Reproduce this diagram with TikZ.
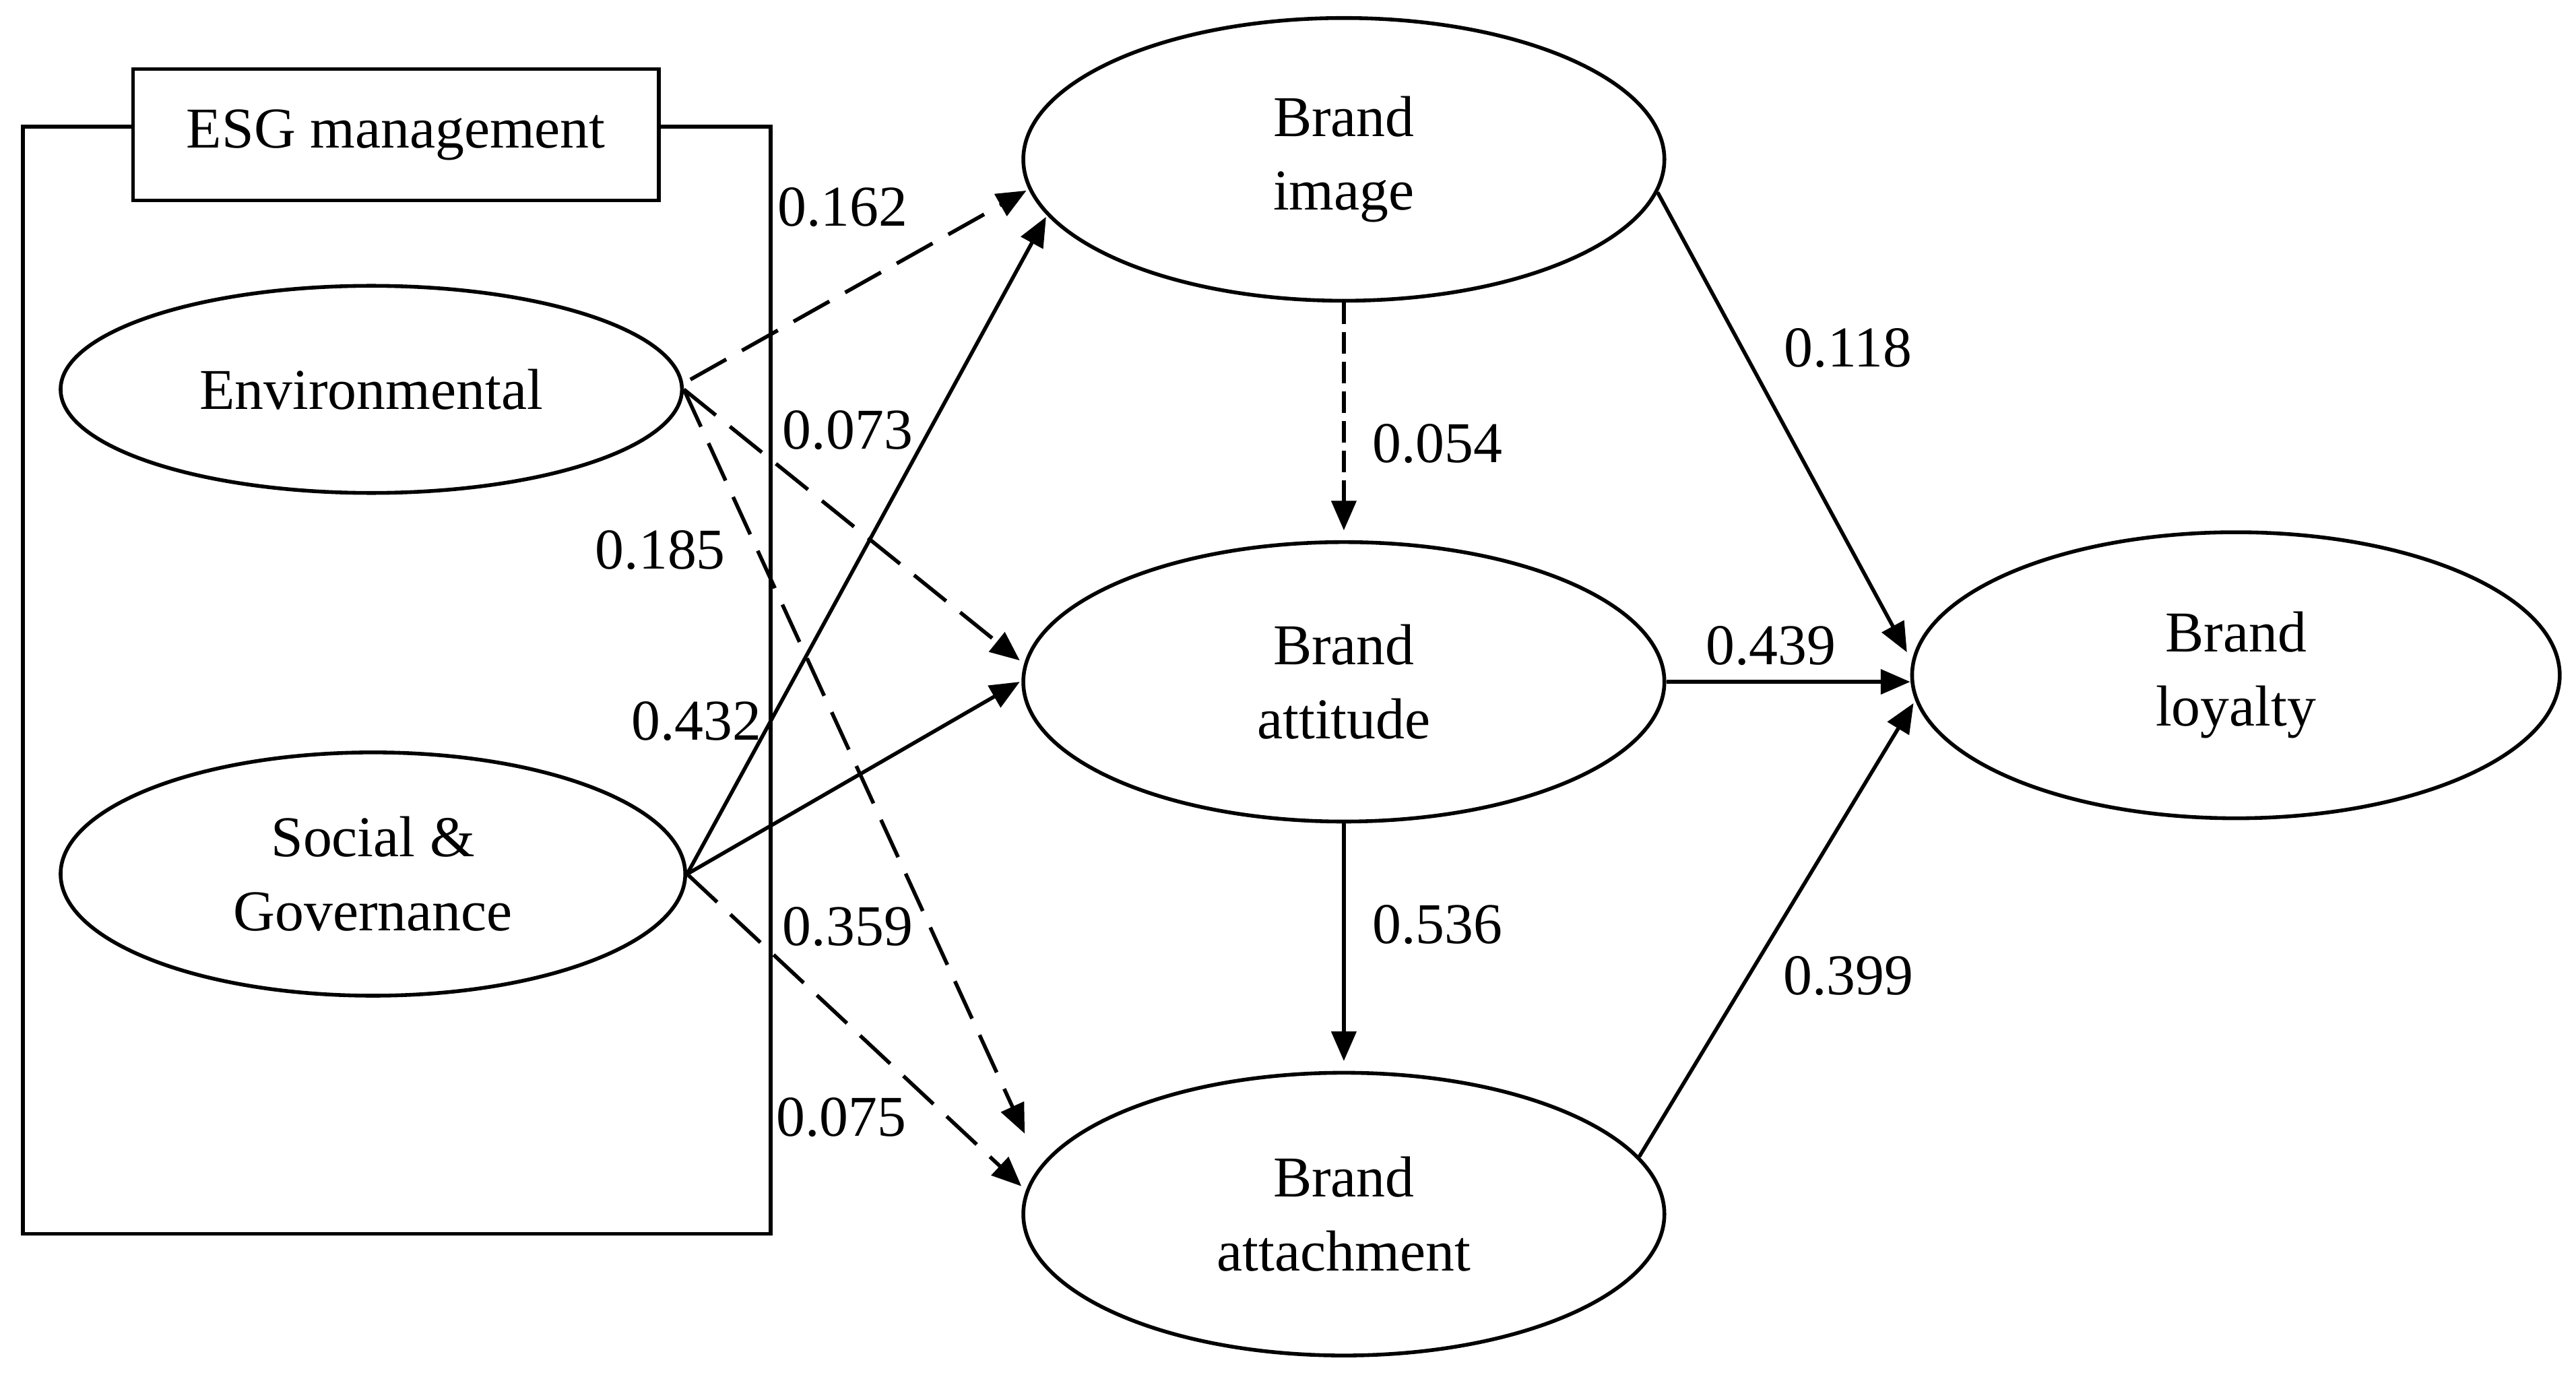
\documentclass[tikz,border=0pt]{standalone}
\usepackage{fontspec}
\setmainfont{Liberation Serif}
\usetikzlibrary{shapes.geometric,arrows.meta}

\tikzset{
  construct/.style={draw,ellipse,line width=0.65pt,inner sep=0pt,align=center,
    minimum width=3.9cm,minimum height=1.7cm},
  effect/.style={line width=0.65pt,-{Triangle[length=0.18cm,width=0.15cm]}},
  weak/.style={effect,dash pattern=on 0.25cm off 0.11cm},
  coef/.style={inner sep=0pt}
}

\begin{document}
\begin{tikzpicture}[x=0.01cm,y=-0.01cm,font=\fontsize{10}{12.8}\selectfont]
  \useasboundingbox (0,0) rectangle (1568,839);

  % ESG block
  \draw[line width=0.65pt] (14,77) rectangle (469,751);
  \node[draw,fill=white,line width=0.65pt,minimum width=3.2cm,minimum height=0.8cm] (esg) at (241,82) {ESG management};
  \node[construct,minimum width=3.78cm,minimum height=1.26cm] (env) at (226,237) {Environmental};
  \node[construct,minimum width=3.8cm,minimum height=1.48cm] (sg) at (227,532) {Social \&\\Governance};

  % brand constructs
  \node[construct,minimum height=1.72cm] (img) at (818,97) {Brand\\image};
  \node[construct] (att) at (818,415) {Brand\\attitude};
  \node[construct,minimum height=1.72cm] (ach) at (818,739) {Brand\\attachment};
  \node[construct,minimum width=3.94cm,minimum height=1.74cm] (loy) at (1361,411) {Brand\\loyalty};

  % paths from ESG
  \draw[weak] ([shift={(4,-6)}]env.east) -- ([shift={(3,19)}]img.west);
  \draw[weak] (env.east) -- ([shift={(-1,-13)}]att.west);
  \draw[weak] (env.east) -- ([shift={(2,-49)}]ach.west);
  \draw[effect] (sg.east) -- ([shift={(15,35)}]img.west);
  \draw[effect] (sg.east) -- ([shift={(-1,0)}]att.west);
  \draw[weak] (sg.east) -- ([shift={(0,-17)}]ach.west);

  % paths between brand constructs
  \draw[effect,dash pattern=on 0.13cm off 0.05cm] (img.south) -- ([shift={(0,-6)}]att.north);
  \draw[effect] (att.south) -- ([shift={(0,-6)}]ach.north);
  \draw[effect] (img.-6) -- ([shift={(-2,-14)}]loy.west);
  \draw[effect] (att.east) -- ([shift={(0,4)}]loy.west);
  \draw[effect] (ach.11) -- ([shift={(2,17)}]loy.west);

  % coefficients
  \node[coef] (c1) at (513,126) {0.162};
  \node[coef] (c2) at (516,262) {0.073};
  \node[coef] (c3) at (402,335) {0.185};
  \node[coef] (c4) at (424,439) {0.432};
  \node[coef] (c5) at (516,564) {0.359};
  \node[coef] (c6) at (512,680) {0.075};
  \node[coef] (c7) at (875,270) {0.054};
  \node[coef] (c8) at (875,563) {0.536};
  \node[coef] (c9) at (1125,212) {0.118};
  \node[coef] (c10) at (1078,393) {0.439};
  \node[coef] (c11) at (1125,594) {0.399};
\end{tikzpicture}
\end{document}
